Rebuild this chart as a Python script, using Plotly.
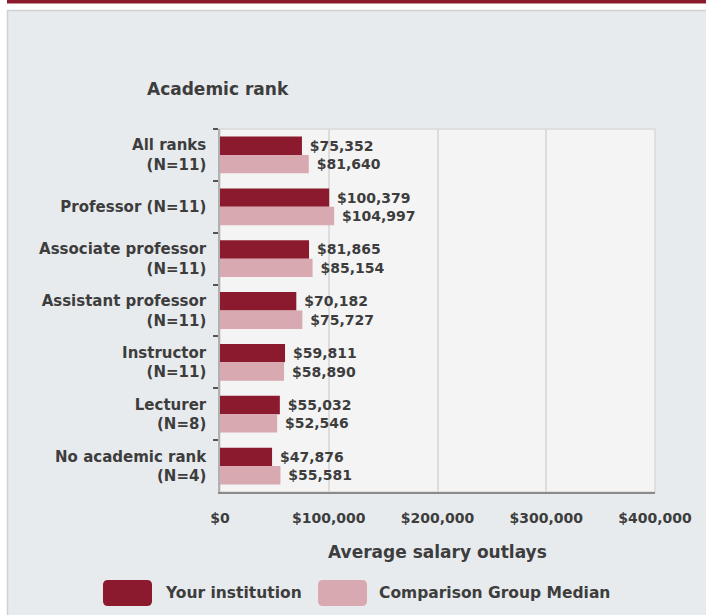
import plotly.graph_objects as go

# ---- data ----
categories = [
    "All ranks<br>(N=11)",
    "Professor (N=11)",
    "Associate professor<br>(N=11)",
    "Assistant professor<br>(N=11)",
    "Instructor<br>(N=11)",
    "Lecturer<br>(N=8)",
    "No academic rank<br>(N=4)",
]
series_names = ["Your institution", "Comparison Group Median"]
institution = [75352, 100379, 81865, 70182, 59811, 55032, 47876]
comparison = [81640, 104997, 85154, 75727, 58890, 52546, 55581]
x_ticks = [0, 100000, 200000, 300000, 400000]
x_tick_labels = ["$0", "$100,000", "$200,000", "$300,000", "$400,000"]

# ---- styles ----
W, H = 706, 615
ML, MR, MT, MB = 220, 51, 129, 123
PW, PH = W - ML - MR, H - MT - MB
DARK = "#8c1a2f"
PINK = "#d8a9b0"
PANEL = "#e8ebee"
TXT = "#3d3d3d"
FONT = "DejaVu Sans"


def px(xp):
    return (xp - ML) / PW


def py(yp):
    return (H - MB - yp) / PH


fig = go.Figure()
for name, vals, col in [(series_names[0], institution, DARK),
                        (series_names[1], comparison, PINK)]:
    fig.add_trace(go.Bar(
        y=categories, x=vals, name=name, orientation="h",
        marker=dict(color=col, line=dict(width=0)),
        texttemplate="\u00a0$%{x:,}", textposition="outside",
        textfont=dict(family=FONT, size=14, color=TXT, weight="bold"),
        constraintext="none", cliponaxis=False, showlegend=False,
    ))

shapes = [
    # white strips around the panel
    dict(type="rect", xref="paper", yref="paper", x0=px(0), x1=px(W + 5),
         y0=py(10), y1=py(-5), fillcolor="white", line_width=0, layer="below"),
    dict(type="rect", xref="paper", yref="paper", x0=px(-5), x1=px(7),
         y0=py(H + 5), y1=py(-5), fillcolor="white", line_width=0, layer="below"),
    # panel border
    dict(type="line", xref="paper", yref="paper", x0=px(7), x1=px(W + 5),
         y0=py(10.5), y1=py(10.5), line=dict(color="#cfd1d4", width=1.5), layer="below"),
    dict(type="line", xref="paper", yref="paper", x0=px(7.5), x1=px(7.5),
         y0=py(10), y1=py(H + 5), line=dict(color="#cfd1d4", width=1.5), layer="below"),
    # top red bar
    dict(type="rect", xref="paper", yref="paper", x0=px(7), x1=px(W + 5),
         y0=py(3.5), y1=py(-5), fillcolor=DARK, line_width=0, layer="below"),
    # plot frame
    dict(type="rect", xref="paper", yref="paper", x0=0, x1=1, y0=0, y1=1,
         line=dict(color="#d9d9d9", width=1.5), fillcolor="rgba(0,0,0,0)", layer="below"),
]


def rounded_rect(x0, y0, x1, y1, r):
    # pixel coords -> paper path with rounded corners
    rx, ry = r / PW, r / PH
    X0, X1 = px(x0), px(x1)
    Y0, Y1 = py(y1), py(y0)  # bottom, top in paper
    return (f"M {X0+rx},{Y0} L {X1-rx},{Y0} Q {X1},{Y0} {X1},{Y0+ry} "
            f"L {X1},{Y1-ry} Q {X1},{Y1} {X1-rx},{Y1} L {X0+rx},{Y1} "
            f"Q {X0},{Y1} {X0},{Y1-ry} L {X0},{Y0+ry} Q {X0},{Y0} {X0+rx},{Y0} Z")


annotations = [
    dict(text="Academic rank", xref="paper", yref="paper", x=px(218), y=py(89),
         xanchor="center", yanchor="middle", showarrow=False,
         font=dict(family=FONT, size=17, color=TXT, weight="bold")),
    dict(text="Average salary outlays", xref="paper", yref="paper", x=px(437), y=py(552),
         xanchor="center", yanchor="middle", showarrow=False,
         font=dict(family=FONT, size=17, color=TXT, weight="bold")),
]

legend_x = [(103, 152, 163), (318, 367, 377)]
for (sx0, sx1, tx), name, col in zip(legend_x, series_names, [DARK, PINK]):
    shapes.append(dict(type="path", xref="paper", yref="paper",
                       path=rounded_rect(sx0, 580, sx1, 606, 5),
                       fillcolor=col, line_width=0))
    annotations.append(dict(text=name, xref="paper", yref="paper", x=px(tx), y=py(593),
                            xanchor="left", yanchor="middle", showarrow=False,
                            font=dict(family=FONT, size=15.5, color=TXT, weight="bold")))

fig.update_layout(
    width=W, height=H, autosize=False,
    margin=dict(l=ML, r=MR, t=MT, b=MB, pad=0),
    paper_bgcolor=PANEL, plot_bgcolor="#f4f4f4",
    barmode="group", bargap=0.29, bargroupgap=0,
    shapes=shapes, annotations=annotations, showlegend=False,
    xaxis=dict(range=[0, 400000], tickmode="array", tickvals=x_ticks, ticktext=x_tick_labels,
               showgrid=True, gridcolor="#dcdcdc", gridwidth=1.5, zeroline=False,
               showline=True, linecolor="#8a8a8a", linewidth=2,
               ticks="", ticklabelstandoff=12,
               tickfont=dict(family=FONT, size=14, color=TXT, weight="bold"),
               fixedrange=True),
    yaxis=dict(autorange="reversed", type="category", tickson="boundaries",
               ticks="outside", ticklen=5, tickcolor="#555555", tickwidth=1.5,
               showgrid=False, showline=True, linecolor="#b0b0b0", linewidth=1.5,
               ticklabelstandoff=9,
               tickfont=dict(family=FONT, size=15, color=TXT, weight="bold"),
               fixedrange=True),
)

fig.write_html("out.html", config={"displayModeBar": False},
               post_script="document.body.style.margin='0';")
